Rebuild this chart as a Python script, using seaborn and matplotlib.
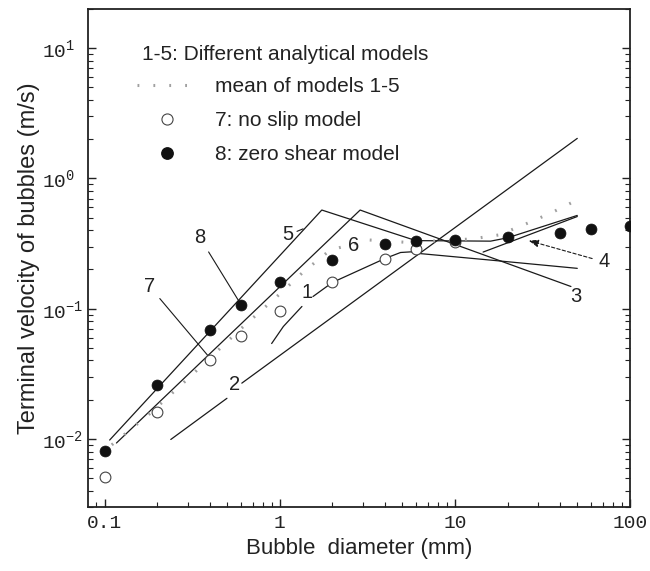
import numpy as np
import pandas as pd
import matplotlib
matplotlib.use("Agg")
import matplotlib.pyplot as plt
import seaborn as sns
from matplotlib.lines import Line2D
from matplotlib.ticker import FixedLocator, FixedFormatter, LogLocator, NullFormatter

# ---------------- data ----------------
diam_8 = [0.1, 0.2, 0.4, 0.6, 1, 2, 4, 6, 10, 20, 40, 60, 100]
vel_8 = [0.0081, 0.026, 0.069, 0.106, 0.16, 0.237, 0.312, 0.333, 0.337, 0.357, 0.383, 0.409, 0.43]

diam_7 = [0.1, 0.2, 0.4, 0.6, 1, 2, 4, 6, 10]
vel_7 = [0.0051, 0.0162, 0.040, 0.062, 0.096, 0.159, 0.242, 0.287, 0.326]

m1a_d = [0.9, 1.05, 1.34]
m1a_v = [0.054, 0.073, 0.104]
m1b_d = [1.55, 2, 4, 4.9, 5.6, 6.3, 16, 50]
m1b_v = [0.124, 0.159, 0.243, 0.27, 0.273, 0.265, 0.236, 0.204]

m2a_d = [0.239, 0.50]
m2a_v = [0.0099, 0.0205]
m2b_d = [0.608, 50]
m2b_v = [0.0268, 2.03]

m3_d = [0.117, 2.88, 46]
m3_v = [0.0093, 0.572, 0.148]

m4_d = [14.5, 50]
m4_v = [0.272, 0.51]

m5_d = [0.107, 1.74, 6, 16, 20, 50]
m5_v = [0.0098, 0.572, 0.333, 0.33, 0.35, 0.52]

mean_d = [0.11, 0.182, 0.301, 0.6, 0.984, 1.368, 1.944, 3.22, 5.33, 12.5, 17.8, 24.7, 35.1, 49.5]
mean_v = [0.009, 0.0157, 0.0292, 0.07, 0.127, 0.192, 0.282, 0.337, 0.323, 0.343, 0.368, 0.44, 0.54, 0.68]

x_ticks = [0.1, 1, 10, 100]
x_ticklabels = ["0.1", "1", "10", "100"]
y_ticks = [0.01, 0.1, 1, 10]
y_ticklabels = [r"$\mathrm{10^{-2}}$", r"$\mathrm{10^{-1}}$", r"$\mathrm{10^{0}}$", r"$\mathrm{10^{1}}$"]

# ---------------- style ----------------
sns.set_style("ticks")
plt.rcParams["font.family"] = ["Liberation Sans", "DejaVu Sans"]
plt.rcParams["mathtext.fontset"] = "custom"
plt.rcParams["mathtext.rm"] = "Liberation Mono"
plt.rcParams["mathtext.it"] = "Liberation Mono"
plt.rcParams["mathtext.bf"] = "Liberation Mono"

LC = "#1a1a1a"
TC = "#222222"
LW = 0.9
MEAN_C = "#a0a0a0"
MEAN_LS = (0, (0.6, 4.6))

fig = plt.figure(figsize=(6.5, 5.71), dpi=100)
ax = fig.add_axes([88 / 650, 1 - 507 / 571, 542 / 650, 498 / 571])

def seg(d, v):
    df = pd.DataFrame({"d": d, "v": v})
    sns.lineplot(data=df, x="d", y="v", ax=ax, sort=False, estimator=None,
                 color=LC, lw=LW)

seg(m1a_d, m1a_v)
seg(m1b_d, m1b_v)
seg(m2a_d, m2a_v)
seg(m2b_d, m2b_v)
seg(m3_d, m3_v)
seg(m4_d, m4_v)
seg(m5_d, m5_v)

mean_df = pd.DataFrame({"d": mean_d, "v": mean_v})
sns.lineplot(data=mean_df, x="d", y="v", ax=ax, sort=False, estimator=None,
             color=MEAN_C, lw=2.2, linestyle=MEAN_LS, dash_capstyle="butt")

df7 = pd.DataFrame({"d": diam_7, "v": vel_7})
df8 = pd.DataFrame({"d": diam_8, "v": vel_8})
sns.scatterplot(data=df7, x="d", y="v", ax=ax, marker="o", s=60,
                facecolor="white", edgecolor="#444444", linewidth=0.8, zorder=4)
sns.scatterplot(data=df8, x="d", y="v", ax=ax, marker="o", s=62,
                color="#111111", edgecolor="#111111", linewidth=0.5, zorder=5)

ax.set_xscale("log")
ax.set_yscale("log")
ax.set_xlim(0.0805, 100)
ax.set_ylim(0.003, 20)

ax.xaxis.set_major_locator(FixedLocator(x_ticks))
ax.xaxis.set_major_formatter(FixedFormatter(x_ticklabels))
ax.yaxis.set_major_locator(FixedLocator(y_ticks))
ax.yaxis.set_major_formatter(FixedFormatter(y_ticklabels))
ax.xaxis.set_minor_locator(LogLocator(base=10, subs=np.arange(2, 10)))
ax.yaxis.set_minor_locator(LogLocator(base=10, subs=np.arange(2, 10)))
ax.xaxis.set_minor_formatter(NullFormatter())
ax.yaxis.set_minor_formatter(NullFormatter())

ax.tick_params(which="both", direction="in", top=False, right=True, color=TC)
ax.tick_params(which="major", length=6, width=1.0)
ax.tick_params(which="minor", length=3.5, width=0.8)
ax.tick_params(axis="x", which="major", pad=6)
ax.tick_params(axis="y", which="major", pad=33.3)
for lab in ax.get_xticklabels() + ax.get_yticklabels():
    lab.set_fontfamily("Liberation Mono")
    lab.set_fontsize(14)
    lab.set_color(TC)
for lab in ax.get_yticklabels():
    lab.set_horizontalalignment("left")
for sp in ax.spines.values():
    sp.set_visible(True)
    sp.set_linewidth(1.3)
    sp.set_color(TC)

ax.set_xlabel("Bubble  diameter (mm)", fontsize=16, color=TC, labelpad=4)
ax.set_ylabel("Terminal velocity of bubbles (m/s)", fontsize=17, color=TC, labelpad=1)

# ---------------- curve labels ----------------
FS = 14.5
tkw = dict(fontsize=FS, color=TC, ha="center", va="center")
ax.text(1.43, 0.132, "1", **tkw)
ax.text(0.55, 0.026, "2", **tkw)
ax.text(48.8, 0.124, "3", **tkw)
ax.text(2.64, 0.308, "6", **tkw)
ax.annotate("8", xy=(0.595, 0.110), xytext=(0.351, 0.349), ha="center", va="center",
            fontsize=FS, color=TC,
            arrowprops=dict(arrowstyle="-", lw=0.8, color=LC, shrinkA=1, shrinkB=0))
ax.annotate("7", xy=(0.401, 0.0416), xytext=(0.182, 0.1467), ha="center", va="center",
            fontsize=FS, color=TC,
            arrowprops=dict(arrowstyle="-", lw=0.8, color=LC, shrinkA=1, shrinkB=0))
ax.annotate("5", xy=(1.36, 0.41), xytext=(1.118, 0.368), ha="center", va="center",
            fontsize=FS, color=TC,
            arrowprops=dict(arrowstyle="-", lw=0.8, color=LC, shrinkA=0, shrinkB=0))
ax.annotate("4", xy=(26.4, 0.333), xytext=(70.8, 0.229), ha="center", va="center",
            fontsize=FS, color=TC,
            arrowprops=dict(arrowstyle="-|>,head_length=0.4,head_width=0.15", lw=0.8,
                            color=LC, linestyle=(0, (3, 2)), shrinkA=2, shrinkB=0))

# ---------------- legend ----------------
LFS = 15
ax.text((142 - 88) / 542, 1 - (54.5 - 9) / 498, "1-5: Different analytical models",
        transform=ax.transAxes, fontsize=LFS, color=TC, ha="left", va="center")
handles = [
    Line2D([], [], color=MEAN_C, lw=2.2, linestyle=MEAN_LS),
    Line2D([], [], marker="o", ls="none", markersize=8, markerfacecolor="white",
           markeredgecolor="#444444", markeredgewidth=0.8),
    Line2D([], [], marker="o", ls="none", markersize=8.2, color="#111111"),
]
labels = ["mean of models 1-5", "7: no slip model", "8: zero shear model"]
ax.legend(handles, labels, loc="upper left",
          bbox_to_anchor=((137 - 88) / 542, 1 - (77 - 9) / 498),
          frameon=False, fontsize=LFS, handlelength=2.9, handletextpad=0.85,
          borderpad=0, borderaxespad=0, labelspacing=0.72, labelcolor=TC)

fig.savefig("out.png", dpi=100)
